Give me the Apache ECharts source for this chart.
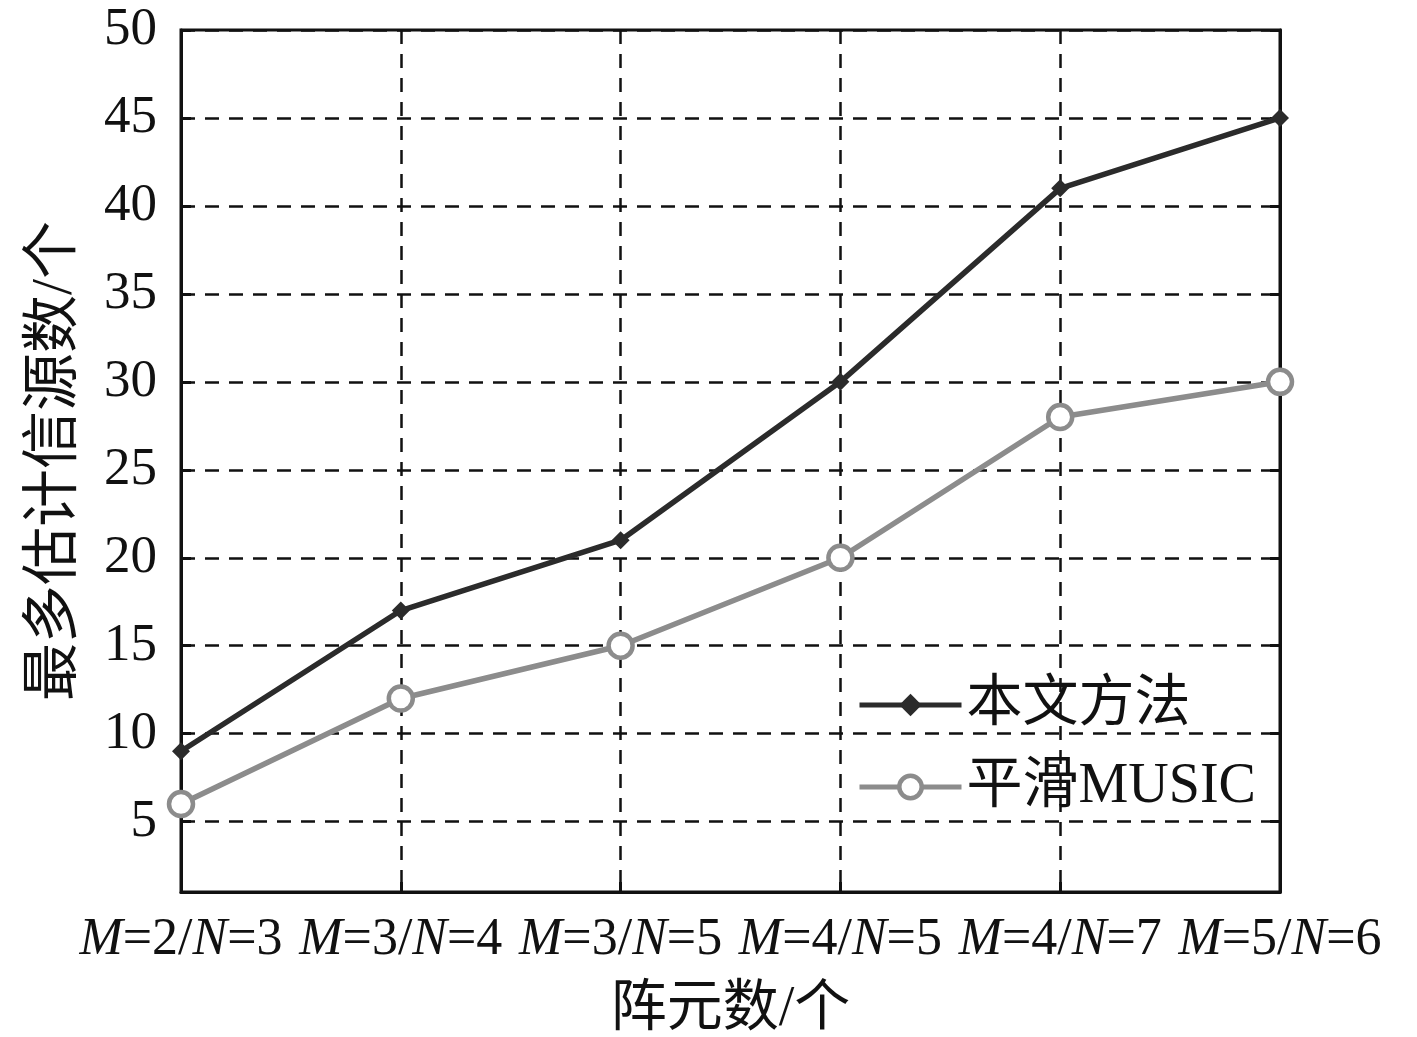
<!DOCTYPE html>
<html>
<head>
<meta charset="utf-8">
<script src="https://cdn.jsdelivr.net/npm/echarts@6/dist/echarts.min.js"></script>
<style>
  html, body { margin: 0; padding: 0; background: #fff; }
  #main { width: 1417px; height: 1037px; }
</style>
</head>
<body>
<div id="main"></div>
<script>
const categories = ['M=2/N=3', 'M=3/N=4', 'M=3/N=5', 'M=4/N=5', 'M=4/N=7', 'M=5/N=6'];
const ours = [9, 17, 21, 30, 41, 45];
const smoothMusic = [6, 12, 15, 20, 28, 30];
const yTicks = [5, 10, 15, 20, 25, 30, 35, 40, 45, 50];

const serif = "'Liberation Serif', 'Times New Roman', 'Noto Sans CJK SC', serif";
const chart = echarts.init(document.getElementById('main'));

const yCommon = {
  type: 'value',
  min: 1,
  max: 50,
  axisLine: { show: true, lineStyle: { color: '#111', width: 3 } },
  axisTick: { show: true, inside: true, length: 10, customValues: yTicks, lineStyle: { color: '#111', width: 3 } },
};

chart.setOption({
  animation: false,
  grid: {
    left: 181, right: 137, top: 30, bottom: 145,
    show: true, borderColor: '#111', borderWidth: 3,
    containLabel: false, outerBoundsMode: 'none'
  },
  legend: {
    orient: 'vertical',
    left: 852,
    top: 672,
    itemWidth: 102,
    itemHeight: 28,
    itemGap: 26,
    lineStyle: { width: 5 },
    itemStyle: { borderWidth: 4.5 },
    textStyle: { fontFamily: serif, fontSize: 56, color: '#111' },
    data: ['本文方法', '平滑MUSIC']
  },
  xAxis: {
    type: 'category',
    data: categories,
    boundaryGap: false,
    axisLine: { lineStyle: { color: '#111', width: 3 } },
    axisTick: { inside: true, interval: 0, length: 10, lineStyle: { color: '#111', width: 3 } },
    splitLine: { show: true, interval: 0, lineStyle: { color: '#111', width: 2.5, type: [14, 10] } },
    axisLabel: {
      interval: 0,
      margin: 22,
      fontFamily: serif,
      fontSize: 52,
      color: '#111',
      formatter: v => v.replace(/([MN])/g, '{i|$1}'),
      rich: { i: { fontStyle: 'italic', fontFamily: serif, fontSize: 52, color: '#111' } }
    },
    name: '阵元数/个',
    nameLocation: 'middle',
    nameGap: 90,
    nameTextStyle: { fontFamily: serif, fontSize: 56, color: '#111' }
  },
  yAxis: [
    Object.assign({}, yCommon, {
      position: 'left',
      axisLabel: { customValues: yTicks, margin: 24, fontFamily: serif, fontSize: 53, color: '#111' },
      splitLine: { show: true, lineStyle: { color: '#111', width: 2.5, type: [14, 10] } },
      name: '最多估计信源数/个',
      nameLocation: 'middle',
      nameGap: 96,
      nameTextStyle: { fontFamily: serif, fontSize: 58, color: '#111' }
    }),
    Object.assign({}, yCommon, {
      position: 'right',
      axisLabel: { show: false },
      splitLine: { show: false }
    })
  ],
  series: [
    {
      name: '本文方法',
      type: 'line',
      data: ours,
      symbol: 'diamond',
      symbolSize: 18,
      lineStyle: { color: '#2b2b2b', width: 5.5 },
      itemStyle: { color: '#2b2b2b' }
    },
    {
      name: '平滑MUSIC',
      type: 'line',
      data: smoothMusic,
      symbol: 'circle',
      symbolSize: 24,
      lineStyle: { color: '#8c8c8c', width: 5.5 },
      itemStyle: { color: '#fff', borderColor: '#8c8c8c', borderWidth: 4.5 }
    }
  ]
});
</script>
</body>
</html>
